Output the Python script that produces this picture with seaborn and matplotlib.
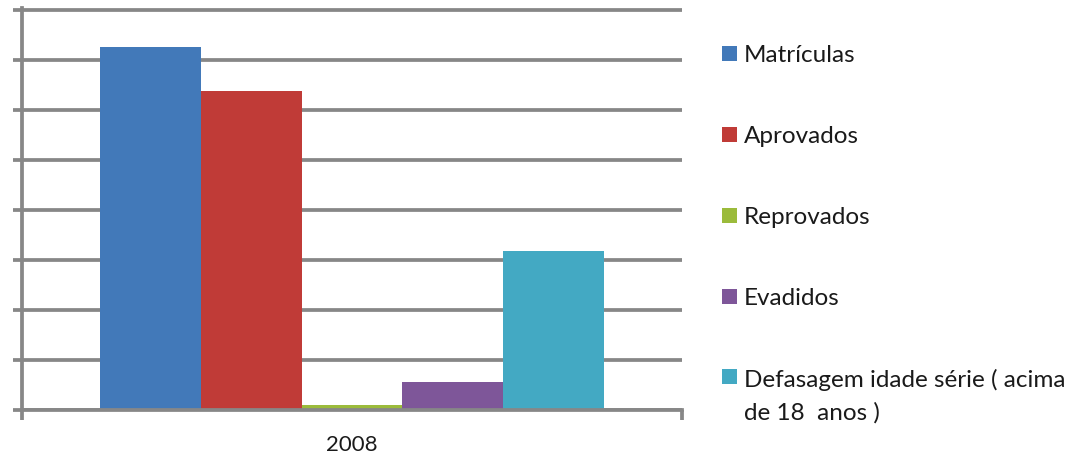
import numpy as np
import pandas as pd
import matplotlib
matplotlib.use("Agg")
import matplotlib.pyplot as plt
import seaborn as sns
from matplotlib.patches import Patch

# data (units = gridline steps)
years = ["2008"]
series = ["Matrículas", "Aprovados", "Reprovados", "Evadidos",
          "Defasagem idade série ( acima\nde 18  anos )"]
values = [7.26, 6.38, 0.1, 0.56, 3.18]
colors = ["#4279B9", "#C03B37", "#9BBB3B", "#7E5699", "#43A9C3"]

df = pd.DataFrame({"ano": years * len(series), "serie": series, "valor": values})

sns.set_theme(style="white")
plt.rcParams["font.family"] = ["Lato", "DejaVu Sans"]

grid_color = "#878787"
W, H = 1091, 475

fig = plt.figure(figsize=(W / 100, H / 100), dpi=100)
ax = fig.add_axes([22 / W, 1 - 410 / H, 660 / W, 402 / H])

sns.barplot(data=df, x="ano", y="valor", hue="serie", palette=colors,
            width=0.765, saturation=1, linewidth=0, ax=ax, legend=False)

ax.set_xlim(-0.5, 0.5)
ax.set_ylim(0, 8.05)
ax.set_yticks(range(9))
ax.set_yticklabels([])
ax.yaxis.grid(True, color=grid_color, linewidth=2.7)
ax.set_axisbelow(True)
ax.tick_params(axis="y", left=True, length=6.5, width=2.7, color=grid_color, direction="out")

ax.set_xticks([-0.5, 0.5], minor=True)
ax.tick_params(axis="x", which="minor", bottom=True, length=7, width=2.7,
               color=grid_color, direction="out")
ax.tick_params(axis="x", which="major", length=0, pad=18, labelsize=16, labelcolor="#1a1a1a")
ax.set_xlabel("")
ax.set_ylabel("")

for side in ["top", "right"]:
    ax.spines[side].set_visible(False)
for side in ["left", "bottom"]:
    ax.spines[side].set_color(grid_color)
    ax.spines[side].set_linewidth(2.7)

line_sp = 1.6
handles = [Patch(facecolor=c, edgecolor="none") for c in colors]
leg = fig.legend(handles, series, loc="upper left", bbox_to_anchor=(722 / W, 1 - 45 / H),
                 frameon=False, fontsize=17.5, handlelength=0.6, handleheight=0.6,
                 handletextpad=0.3, labelspacing=2.47, borderpad=0, borderaxespad=0,
                 labelcolor="#1a1a1a")
for t in leg.get_texts():
    t.set_linespacing(line_sp)

# put the square of the two-line entry next to its first line
last = leg.legend_handles[-1]
last.set_y(last.get_y() + 0.5 * line_sp * 17.5)

fig.savefig("out.png", dpi=100)
